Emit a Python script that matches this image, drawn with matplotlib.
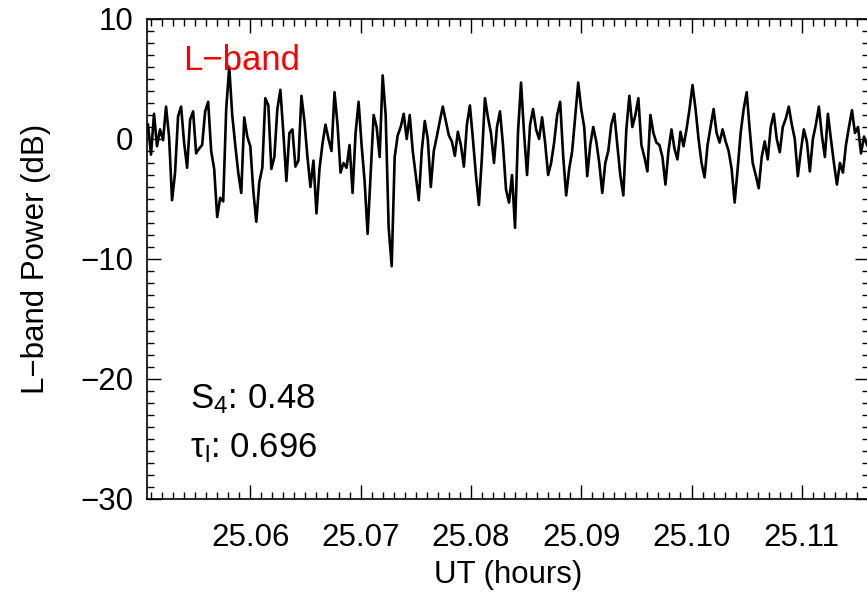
import numpy as np
import matplotlib
matplotlib.use("Agg")
import matplotlib.pyplot as plt
from matplotlib.ticker import MultipleLocator, FormatStrFormatter

plt.rcParams["font.family"] = ["Liberation Sans", "DejaVu Sans"]
plt.rcParams["mathtext.fontset"] = "custom"
plt.rcParams["mathtext.rm"] = "Liberation Sans"
plt.rcParams["mathtext.it"] = "Liberation Sans:italic"

# L-band power (dB) at even steps in UT
power_db = [
    1.2, -1.3, 2.1, -0.6, 0.8, -0.1, 2.7, 0.2, -5.1, -2.8,
    1.9, 2.7, -0.3, -2.4, 1.6, 2.3, -1.2, -0.8, -0.5, 2.3,
    3.1, -1.0, -2.5, -6.5, -4.9, -5.2, 2.5, 6.0, 2.0, -0.5,
    -2.8, -4.5, 1.8, 0.2, -0.6, -4.3, -6.9, -3.6, -2.4, 3.4,
    2.8, -2.5, -1.5, 2.5, 4.1, 0.5, -3.5, 0.5, 0.8, -2.3,
    -1.8, 3.6, 1.5, -1.5, -4.0, -1.8, -6.2, -2.5, -0.4, 1.2,
    0.0, -1.0, 3.9, 1.2, -2.8, -2.0, -2.4, -0.5, -4.5, 0.5,
    3.1, -0.5, -3.5, -7.9, -2.9, 2.0, 1.0, -1.5, 5.3, 2.0,
    -7.4, -10.6, -1.5, 0.3, 1.0, 2.1, 0.0, 2.0, -1.0, -3.0,
    -5.1, -1.0, 1.5, 0.0, -4.0, -1.0, 0.2, 1.5, 2.7, 1.5,
    0.3, -0.2, -1.4, 0.6, -0.5, -2.3, 1.2, 2.8, 0.0, -3.0,
    -5.5, -1.5, 3.4, 1.8, 0.5, -2.0, 1.0, 2.3, -0.5, -4.2,
    -5.3, -3.0, -7.4, 0.6, 4.7, 0.5, -3.0, 1.2, 2.5, 0.8,
    0.0, 1.8, -0.3, -3.0, -2.0, -0.3, 2.0, 3.1, -1.4, -4.7,
    -2.5, -1.0, 1.8, 4.7, 2.5, 1.0, -3.1, -0.5, 1.0, -0.2,
    -2.0, -4.5, -2.0, -1.0, 1.2, 2.1, -0.5, -3.0, -4.7, 0.8,
    3.6, 1.0, 2.0, 3.4, -0.5, -1.5, -2.7, 2.0, 0.5, -0.3,
    -0.5, -1.5, -3.8, -1.0, 0.8, -0.8, -1.7, 0.6, -0.6, 0.8,
    2.5, 4.5, 2.5, 0.0, -2.0, -3.2, -0.5, 1.0, 2.5, 0.5,
    -0.3, 0.8, -0.2, -1.0, -2.5, -5.3, -2.5, 0.5, 2.5, 3.9,
    0.8, -2.0, -3.0, -4.1, -1.5, -0.2, -1.7, 1.0, 2.1, 0.0,
    -1.1, 1.0, 1.7, 2.7, 1.2, 0.0, -3.1, -1.0, 0.8, -0.2,
    -2.7, 0.0, 1.2, 2.7, 0.3, -1.5, 2.1, 0.0, -2.0, -3.8,
    -2.0, -2.8, -0.5, 1.0, 2.4, 0.5, 1.0, -1.2, 0.2, -0.5,
]
ut_start, ut_end = 25.05073, 25.11591
ut_hours = np.linspace(ut_start, ut_end, len(power_db))

x_range = (25.05064, 25.11609)
y_range = (-30, 10)
s4_text = "S$_\\mathrm{4}$: 0.48"
tau_text = "τ$_\\mathrm{l}$: 0.696"

fig = plt.figure(figsize=(8.67, 5.94), dpi=100)
ax = fig.add_axes([147 / 867, 1 - 499 / 594, 722 / 867, 480 / 594])

ax.plot(ut_hours, power_db, color="black", lw=1.9)

ax.set_xlim(*x_range)
ax.set_ylim(*y_range)
ax.xaxis.set_major_locator(MultipleLocator(0.01))
ax.xaxis.set_minor_locator(MultipleLocator(0.001))
ax.xaxis.set_major_formatter(FormatStrFormatter("%.2f"))
ax.yaxis.set_major_locator(MultipleLocator(10))
ax.yaxis.set_minor_locator(MultipleLocator(1))
ax.tick_params(which="both", direction="in", top=True, right=True, width=1.0,
               labelsize=22.5)
ax.tick_params(which="major", length=10)
ax.tick_params(which="minor", length=5)
ax.tick_params(axis="x", pad=17)
ax.tick_params(axis="y", pad=10)
for sp in ax.spines.values():
    sp.set_linewidth(1.2)

ax.set_xlabel("UT (hours)", fontsize=22.5, labelpad=5)
ax.set_ylabel("L\u2212band Power (dB)", fontsize=22.5, labelpad=21)

ax.text(0.05, 0.894, "L\u2212band", color="red", fontsize=25,
        transform=ax.transAxes, va="baseline")
ax.text(0.06, 0.19, s4_text, fontsize=25, transform=ax.transAxes, va="baseline")
ax.text(0.06, 0.0875, tau_text, fontsize=25, transform=ax.transAxes, va="baseline")

fig.savefig("out.png", dpi=100)
